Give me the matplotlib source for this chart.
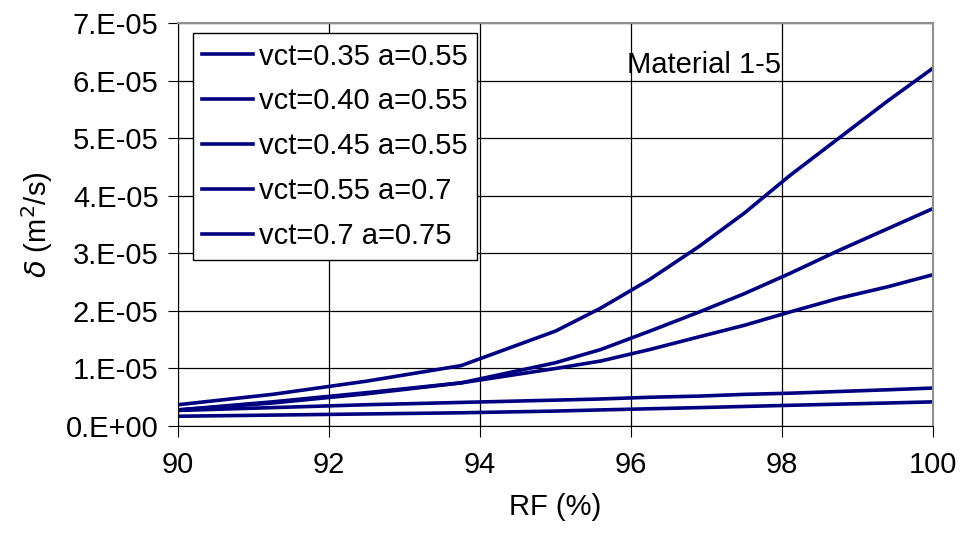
import numpy as np
import matplotlib.pyplot as plt
from matplotlib.ticker import FuncFormatter

plt.rcParams['font.family'] = ['Liberation Sans', 'DejaVu Sans']

# RF (%) grid
rf = [90, 91.25, 92.5, 93.75, 95, 95.6, 96.25, 96.9, 97.5, 98.1, 98.75, 99.4, 100]

# diffusivity values, in units of 1e-5 m2/s
d_035 = [0.37, 0.55, 0.78, 1.05, 1.65, 2.05, 2.55, 3.12, 3.70, 4.35, 5.00, 5.65, 6.22]
d_040 = [0.28, 0.42, 0.58, 0.75, 1.10, 1.33, 1.65, 1.98, 2.30, 2.65, 3.05, 3.43, 3.78]
d_045 = [0.28, 0.40, 0.56, 0.75, 1.00, 1.13, 1.33, 1.55, 1.75, 1.98, 2.22, 2.42, 2.63]
d_055 = [0.27, 0.32, 0.37, 0.41, 0.45, 0.47, 0.50, 0.52, 0.55, 0.57, 0.60, 0.63, 0.66]
d_070 = [0.17, 0.19, 0.21, 0.23, 0.26, 0.28, 0.30, 0.32, 0.34, 0.36, 0.38, 0.40, 0.42]

labels = ['vct=0.35 a=0.55', 'vct=0.40 a=0.55', 'vct=0.45 a=0.55',
          'vct=0.55 a=0.7', 'vct=0.7 a=0.75']
series = [d_035, d_040, d_045, d_055, d_070]

fs = 21

fig = plt.figure(figsize=(9.6, 5.39), dpi=100)
ax = fig.add_axes([0.1854, 0.2096, 0.7866, 0.7474])

for lab, s in zip(labels, series):
    ax.plot(rf, np.array(s) * 1e-5, color='#000080', lw=2.6, label=lab)

ax.set_xlim(90, 100)
ax.set_ylim(0, 7e-5)
ax.set_xticks([90, 92, 94, 96, 98, 100])
ax.set_yticks(np.arange(0, 8) * 1e-5)
ax.yaxis.set_major_formatter(FuncFormatter(lambda v, p: f"{v:.0E}".replace('E', '.E')))
ax.grid(True, color='black', lw=0.9)
ax.set_axisbelow(True)

ax.tick_params(axis='both', labelsize=fs, direction='out', color='black')
ax.tick_params(axis='y', length=7, pad=7)
ax.tick_params(axis='x', length=8, pad=10)
ax.spines['left'].set_color('black')
ax.spines['bottom'].set_color('black')
for sp in ['top', 'right']:
    ax.spines[sp].set_color('#909090')
    ax.spines[sp].set_linewidth(1.5)

ax.set_xlabel('RF (%)', fontsize=fs, labelpad=10)
ax.set_ylabel(r'$\delta$ (m$^2$/s)', fontsize=fs, labelpad=8)

ax.text(96.97, 6.28e-5, 'Material 1-5', fontsize=fs, ha='center', va='center')

leg = ax.legend(loc='upper left', bbox_to_anchor=(0.02, 0.975), fontsize=fs,
                frameon=True, fancybox=False, edgecolor='black', framealpha=1,
                handlelength=1.75, labelspacing=0.58, borderpad=0.32,
                handletextpad=0.2, borderaxespad=0)
leg.get_frame().set_linewidth(1)

fig.savefig('out.png', dpi=100)
